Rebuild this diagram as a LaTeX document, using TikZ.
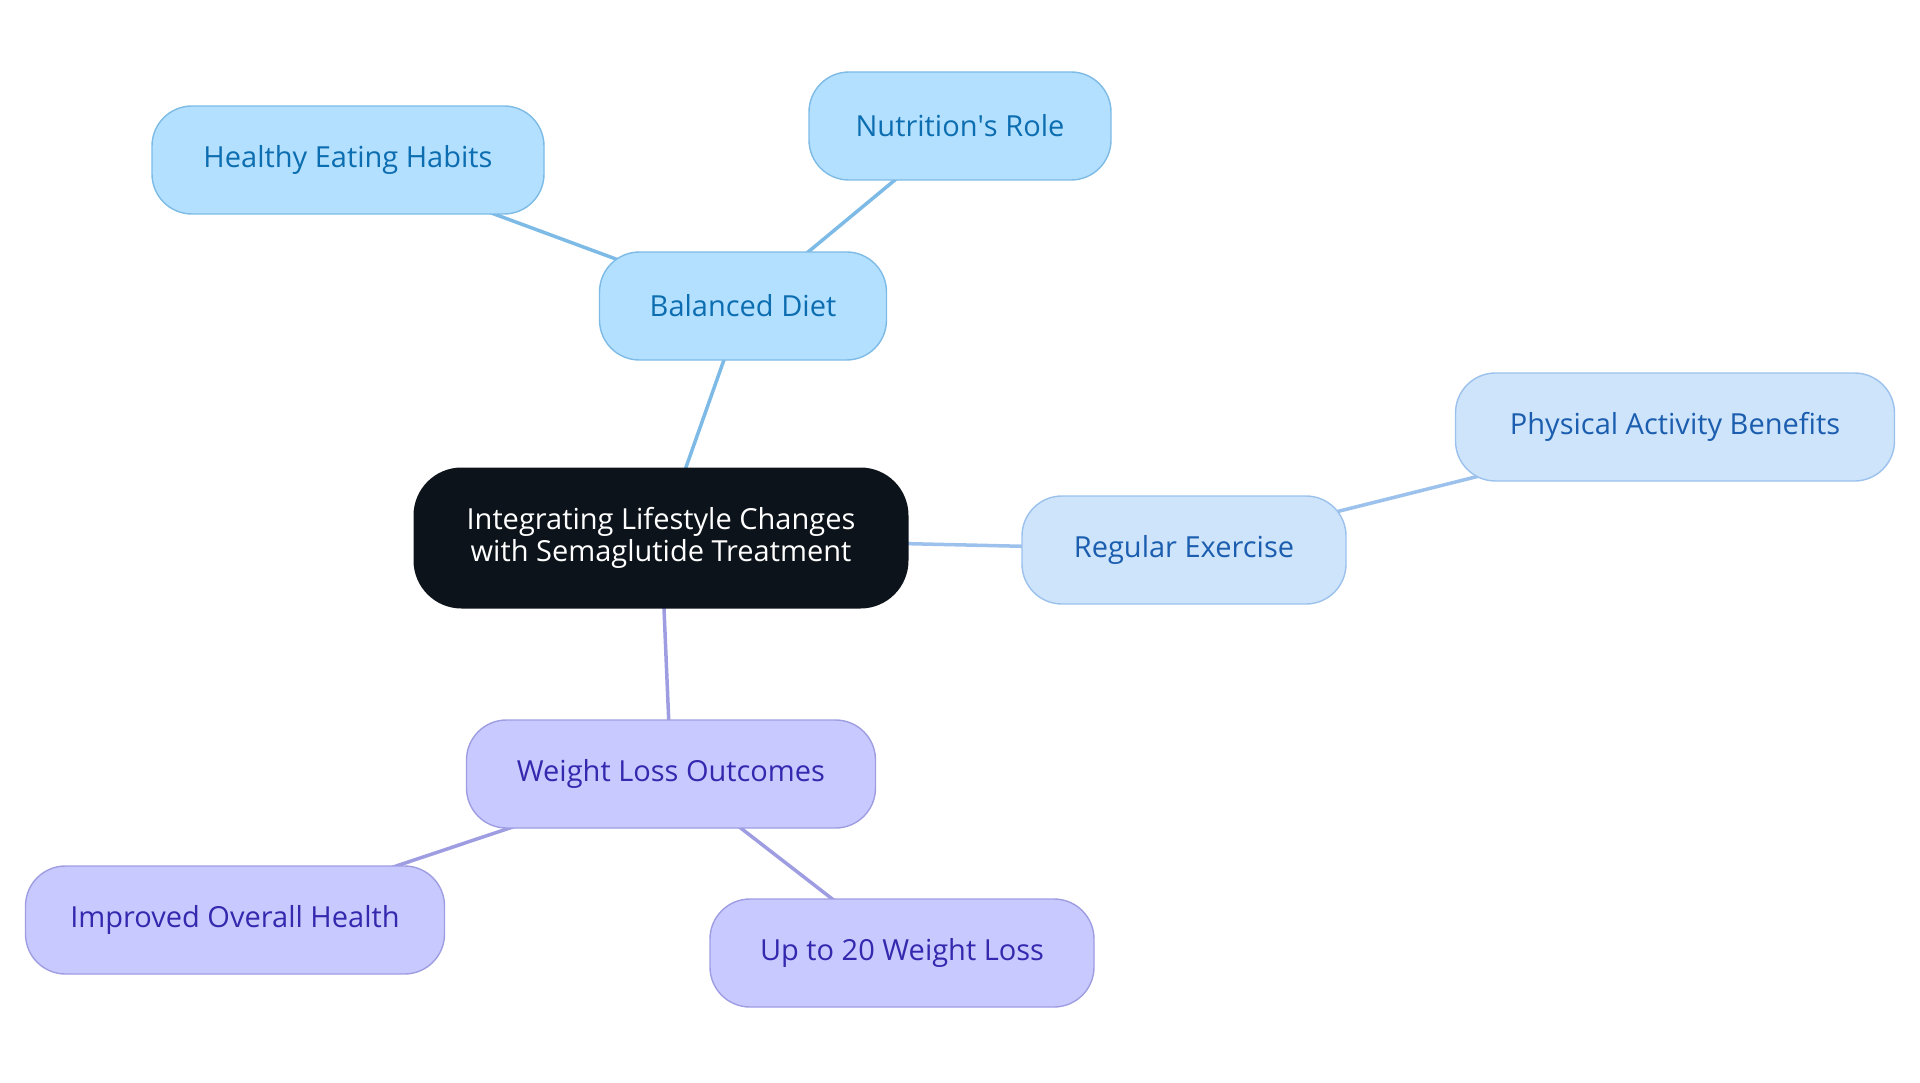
\documentclass[tikz,border=0pt]{standalone}
\usepackage{fontspec}
\setmainfont{Open Sans}
\usetikzlibrary{backgrounds}
\definecolor{rootBlack}{HTML}{0D131A}
\definecolor{dietFill}{HTML}{B3E0FF}
\definecolor{dietLine}{HTML}{7DBBE6}
\definecolor{dietText}{HTML}{0C6DB0}
\definecolor{sportFill}{HTML}{CDE4FB}
\definecolor{sportLine}{HTML}{9BC1EC}
\definecolor{sportText}{HTML}{1B5DAE}
\definecolor{lossFill}{HTML}{C8CAFF}
\definecolor{lossLine}{HTML}{9F9DE2}
\definecolor{lossText}{HTML}{3528AE}

\begin{document}
\begin{tikzpicture}[x=1pt, y=-1pt,
    box/.style={rounded corners=40pt, minimum height=108pt, line width=1.4pt,
        font=\fontsize{29}{32}\selectfont, align=center},
    dietBox/.style={box, fill=dietFill, draw=dietLine, text=dietText},
    sportBox/.style={box, fill=sportFill, draw=sportLine, text=sportText},
    lossBox/.style={box, fill=lossFill, draw=lossLine, text=lossText},
    link/.style={line width=3.5pt}]
        \useasboundingbox (0,0) rectangle (1920,1083);

        % 中心
        \node[box, fill=rootBlack, text=white, minimum width=495pt, minimum height=141pt,
            rounded corners=48pt] (root) at (661,538)
            {Integrating Lifestyle Changes\\with Semaglutide Treatment};

        % 食事
        \node[dietBox, minimum width=287pt] (diet) at (743,306) {Balanced Diet};
        \node[dietBox, minimum width=392pt] (habits) at (348,160) {Healthy Eating Habits};
        \node[dietBox, minimum width=302pt] (nutrition) at (960,126) {Nutrition\textquotesingle s Role};

        % 運動
        \node[sportBox, minimum width=324pt] (exercise) at (1184,550) {Regular Exercise};
        \node[sportBox, minimum width=439pt] (activity) at (1675,427) {Physical Activity Benefits};

        % 減量
        \node[lossBox, minimum width=409pt] (outcomes) at (671,774) {Weight Loss Outcomes};
        \node[lossBox, minimum width=419pt] (health) at (235,920) {Improved Overall Health};
        \node[lossBox, minimum width=384pt] (twenty) at (902,953) {Up to 20 Weight Loss};

        \begin{scope}[on background layer]
            \draw[link, dietLine] (root.center) -- (diet.center);
            \draw[link, dietLine] (diet.center) -- (habits.center);
            \draw[link, dietLine] (diet.center) -- (nutrition.center);
            \draw[link, sportLine] (root.center) -- (exercise.center);
            \draw[link, sportLine] (exercise.center) -- (activity.center);
            \draw[link, lossLine] (root.center) -- (outcomes.center);
            \draw[link, lossLine] (outcomes.center) -- (health.center);
            \draw[link, lossLine] (outcomes.center) -- (twenty.center);
        \end{scope}
    \end{tikzpicture}
\end{document}
